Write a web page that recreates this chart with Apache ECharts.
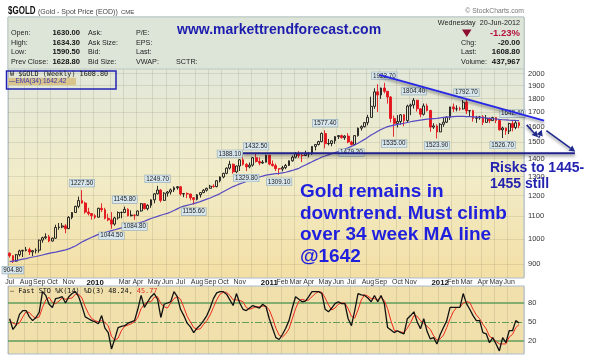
<!DOCTYPE html>
<html><head><meta charset="utf-8">
<script src="https://cdn.jsdelivr.net/npm/echarts@6/dist/echarts.min.js"></script>
<style>html,body{margin:0;padding:0;background:#fff}#c{width:590px;height:362px}</style>
</head><body><div id="c"></div>
<script>
// ---- DATA (weekly, week ending Friday; first week ends 2009-07-03) ----
const firstWeekEnd = [2009, 6, 3];
// [open, high, low, close]
const ohlc2009 = [
[943,946,926,933],[933,935,905,912],[912,940,910,937],[937,957,930,952],[952,957,928,954],
[954,968,950,957],[957,965,936,948],[948,955,932,953],[953,962,942,955],[955,998,945,996],
[996,1010,985,1006],[1006,1025,1000,1010],[1010,1018,987,992],[992,1007,990,1004],[1004,1062,1002,1050],
[1050,1070,1040,1052],[1052,1070,1047,1057],[1057,1065,1025,1045],[1045,1101,1043,1095],[1095,1120,1087,1118],
[1118,1150,1116,1147],[1147,1195,1138,1175],[1175,1227.5,1160,1163],[1163,1170,1112,1120],[1120,1140,1104,1113],
[1113,1115,1085,1103]];
const ohlc2010 = [
[1103,1110,1088,1096],[1096,1140,1095,1138],[1138,1162,1120,1131],[1131,1140,1086,1091],[1091,1112,1078,1084],
[1084,1120,1044.5,1065],[1065,1098,1058,1093],[1093,1123,1085,1118],[1118,1123,1091,1118],[1118,1145.8,1115,1133],
[1133,1138,1100,1103],[1103,1128,1100,1106],[1106,1109,1084.8,1105],[1105,1128,1102,1125],[1125,1163,1122,1160],
[1160,1162,1132,1136],[1136,1157,1128,1152],[1152,1181,1140,1179],[1179,1212,1162,1209],[1209,1249.7,1206,1228],
[1228,1232,1166,1176],[1176,1217,1174,1212],[1212,1223,1195,1218],[1218,1236,1205,1229],[1229,1247,1218,1240],
[1240,1248,1230,1245],[1245,1247,1200,1208],[1208,1213,1192,1210],[1210,1216,1187,1208],[1208,1209,1176,1189],
[1189,1192,1155.6,1181],[1181,1208,1176,1204],[1204,1217,1190,1215],[1215,1233,1212,1227],[1227,1240,1220,1237],
[1237,1255,1236,1248],[1248,1258,1240,1246],[1246,1280,1242,1277],[1277,1300,1268,1297],[1297,1320,1290,1317],
[1317,1350,1312,1346],[1346,1388.1,1338,1368],[1368,1372,1315,1325],[1325,1360,1318,1358],[1358,1398,1330,1394],
[1394,1424,1360,1367],[1367,1375,1329.8,1353],[1353,1378,1345,1363],[1363,1410,1355,1406],[1406,1432.5,1378,1384],
[1384,1408,1362,1375],[1375,1392,1370,1380],[1380,1424,1378,1421]];
const ohlc2011 = [
[1421,1423,1362,1369],[1369,1390,1355,1360],[1360,1372,1330,1343],[1343,1345,1309.1,1341],[1341,1359,1328,1349],
[1349,1370,1340,1361],[1361,1390,1358,1388],[1388,1419,1383,1409],[1409,1440,1402,1429],[1429,1445,1405,1420],
[1420,1436,1381,1419],[1419,1448,1415,1429],[1429,1440,1408,1429],[1429,1475,1423,1474],[1474,1487,1450,1486],
[1486,1509,1480,1504],[1504,1563,1500,1556],[1556,1577.4,1462,1491],[1491,1521,1480,1492],[1492,1511,1475,1509],
[1509,1538,1490,1536],[1536,1546,1520,1542],[1542,1549,1523,1529],[1529,1545,1515,1539],[1539,1558,1494,1501],
[1501,1510,1479.2,1486],[1486,1545,1483,1542],[1542,1595,1536,1591],[1591,1610,1575,1601],[1601,1632,1596,1628],
[1628,1682,1610,1664],[1664,1815,1664,1743],[1743,1880,1725,1852],[1852,1912,1702,1828],[1828,1885,1798,1882],
[1882,1923.7,1840,1856],[1856,1859,1763,1812],[1812,1820,1630,1657],[1657,1677,1535,1623],[1623,1680,1596,1636],
[1636,1688,1615,1682],[1682,1686,1604,1642],[1642,1755,1630,1745],[1745,1763,1680,1753],[1753,1804.4,1727,1788],
[1788,1791,1705,1725],[1725,1728,1665,1686],[1686,1764,1677,1746],[1746,1763,1706,1713],[1713,1718,1567,1598],
[1598,1624,1586,1606],[1606,1617,1523.9,1566]];
const ohlc2012 = [
[1566,1625,1565,1617],[1617,1660,1600,1631],[1631,1672,1626,1665],[1665,1740,1647,1739],[1739,1764,1703,1725],
[1725,1750,1707,1725],[1725,1740,1712,1724],[1724,1790,1720,1773],[1773,1792.7,1688,1710],[1710,1716,1672,1712],
[1712,1718,1635,1658],[1658,1675,1627,1662],[1662,1675,1648,1668],[1668,1680,1612,1630],[1630,1681,1628,1658],
[1658,1663,1625,1642],[1642,1669,1640,1663],[1663,1666,1625,1643],[1643,1648,1575,1580],[1580,1601,1526.7,1592],
[1592,1595,1547,1572],[1572,1627,1552,1622],[1622,1642.4,1570,1595],[1595,1640,1584,1627],[1627,1634.3,1590.5,1608.8]];

const ema34 = [
910,912,914,917,920,922,925,928,930,933,
936,939,942,945,947,950,953,956,960,966,
972,980,988,995,1002,1008,1014,1020,1024,1028,
1032,1036,1040,1044,1048,1052,1056,1060,1064,1068,
1073,1078,1084,1090,1095,1100,1105,1110,1114,1120,
1127,1135,1143,1148,1152,1156,1160,1165,1170,1176,
1182,1188,1195,1202,1210,1219,1228,1237,1246,1253,
1260,1266,1273,1280,1286,1292,1297,1302,1307,1310,
1313,1315,1317,1320,1323,1328,1333,1339,1345,1355,
1364,1373,1382,1392,1400,1410,1416,1423,1430,1436,
1442,1450,1458,1466,1474,1483,1494,1506,1518,1532,
1546,1558,1570,1582,1592,1601,1606,1611,1616,1620,
1624,1629,1634,1638,1642,1646,1649,1652,1654,1656,
1658,1661,1664,1666,1668,1670,1671,1672,1671,1670,
1670,1668,1666,1664,1662,1660,1658,1655,1653,1650,
1648,1647,1645,1644,1643,1642.42];

const stoK = [
55,38,45,62,68,68,58,52,57,65,
98,92,78,73,87,88,90,80,90,95,
98,90,75,58,55,52,50,47,60,40,
33,7,23,41,43,44,48,50,52,70,
92,73,82,90,95,86,57,78,80,82,
98,90,70,60,48,42,33,40,45,52,
60,72,87,96,98,98,94,85,76,95,
80,70,68,72,76,74,72,78,74,55,
40,25,22,30,40,52,72,90,86,82,
83,90,98,98,98,95,70,66,72,79,
82,79,79,55,44,68,95,93,92,88,
82,92,82,92,79,41,37,33,36,33,
31,55,60,66,50,39,55,35,23,25,
15,30,41,52,73,73,73,73,95,79,
70,60,52,52,33,31,17,25,15,4,
25,17,36,36,52,48.24];
const stoD = [
52,48,46,48,58,66,65,59,56,58,
73,85,89,81,79,83,88,86,87,88,
94,94,88,74,63,55,52,50,52,49,
44,27,21,24,36,43,45,47,50,57,
71,78,82,82,89,90,79,74,72,80,
87,90,86,73,59,50,41,38,39,46,
52,61,73,85,94,97,97,92,85,85,
84,82,73,70,72,74,74,75,75,69,
56,40,29,26,31,39,55,71,83,86,
84,85,90,95,98,97,88,77,69,72,
78,80,80,71,59,56,69,85,93,91,
87,87,85,89,84,71,52,37,35,34,
33,40,49,60,59,52,48,43,38,28,
21,23,29,41,55,66,73,73,80,82,
81,70,61,55,46,39,27,24,19,15,
15,15,26,30,41,45.77];

const priceTicks = [900,1000,1100,1200,1300,1400,1500,1600,1700,1800,1900,2000];
const stoTicks = [20,50,80];
const hiddenMonthLabels = ['2009-12','2010-02','2010-12','2011-12'];
const monthNames = ['Jan','Feb','Mar','Apr','May','Jun','Jul','Aug','Sep','Oct','Nov','Dec'];
// [weekIndex, price, 'high'|'low']
const peakLabels = [
[1,904.8,'low'],[22,1227.5,'high'],[31,1044.5,'low'],[35,1145.8,'high'],[38,1084.8,'low'],
[45,1249.7,'high'],[56,1155.6,'low'],[67,1388.1,'high'],[72,1329.8,'low'],[75,1432.5,'high'],
[82,1309.1,'low'],[96,1577.4,'high'],[104,1479.2,'low'],[114,1923.7,'high'],[117,1535.0,'low'],
[123,1804.4,'high'],[130,1523.9,'low'],[139,1792.7,'high'],[150,1526.7,'low'],[153,1642.4,'high']];
// annotation anchors [weekIndex, price]
const trendLine = [[112.5,1988],[162.6,1642]];
const supportLine = [[71,1432.5],[172,1432.5]];
const arrows = [ [[157.3,1613],[160.8,1531]], [[161.0,1528],[161.9,1580]], [[163.3,1575],[172.1,1442]] ];

// ---- BUILD ----
const ohlc = ohlc2009.concat(ohlc2010, ohlc2011, ohlc2012);
const weeks = [];
for (let i = 0; i < ohlc.length; i++) {
  const d = new Date(Date.UTC(firstWeekEnd[0], firstWeekEnd[1], firstWeekEnd[2]) + i * 7 * 86400000);
  weeks.push(d.toISOString().slice(0, 10));
}
const cats = weeks.concat(['']);
const L = Math.log10;
const candles = ohlc.map(r => [L(r[0]), L(r[3]), L(r[2]), L(r[1])]).concat(['-']);
const isMonthStart = i => i < weeks.length && (i === 0 || weeks[i].slice(5,7) !== weeks[i-1].slice(5,7));
const FONT = 'Liberation Sans, Arial, sans-serif';
const MONO = 'DejaVu Sans Mono, monospace';
const gridLineColor = 'rgba(110,110,90,0.16)';

const chart = echarts.init(document.getElementById('c'));
chart.setOption({
  animation: false,
  textStyle: {fontFamily: FONT},
  grid: [
    {left: 8, right: 66, top: 17, bottom: 84, show: true, borderColor: '#a9bccd', borderWidth: 1,
     backgroundColor: new echarts.graphic.LinearGradient(0,0,0,1,[
       {offset:0,color:'#dfe6dc'},{offset:0.25,color:'#e4e8d8'},{offset:0.6,color:'#f1ecc9'},{offset:1,color:'#f3dfa4'}])},
    {left: 8, right: 66, top: 286, bottom: 8, show: true, borderColor: '#a9bccd', borderWidth: 1,
     backgroundColor: '#f1dfac'}
  ],
  xAxis: [
    {type:'category', gridIndex:0, data: cats, boundaryGap: true,
     axisLine:{show:false}, axisTick:{show:false},
     axisLabel:{show:true, margin:1, fontSize:7, color:'#333', fontFamily: FONT,
       interval: (idx) => isMonthStart(idx) && hiddenMonthLabels.indexOf(weeks[idx].slice(0,7)) < 0,
       formatter: (v) => { if (!v) return ''; const m = +v.slice(5,7); return m === 1 ? '{y|' + v.slice(0,4) + '}' : monthNames[m-1]; },
       rich: {y: {fontWeight:'bold', fontSize:7.8, color:'#111', fontFamily: FONT}}},
     splitLine:{show:true, interval:(idx) => isMonthStart(idx), lineStyle:{color:gridLineColor, width:1}}},
    {type:'category', gridIndex:1, data: cats, boundaryGap: true,
     axisLine:{show:false}, axisTick:{show:false}, axisLabel:{show:false},
     splitLine:{show:true, interval:(idx) => isMonthStart(idx), lineStyle:{color:gridLineColor, width:1}}}
  ],
  yAxis: [
    {type:'value', gridIndex:0, position:'right', min: L(850), max: L(2533), scale: true,
     axisLine:{show:false}, axisTick:{show:false, customValues: priceTicks.map(L)},
     axisLabel:{customValues: priceTicks.map(L), formatter: v => String(Math.round(Math.pow(10, v))),
       fontSize:7.5, color:'#333', margin:4, fontFamily: FONT},
     splitLine:{show:true, lineStyle:{color:gridLineColor, width:1}}},
    {type:'value', gridIndex:1, position:'right', min:-1, max:107,
     axisLine:{show:false}, axisTick:{show:false, customValues: stoTicks},
     axisLabel:{customValues: stoTicks, fontSize:7.5, color:'#333', margin:4, fontFamily: FONT},
     splitLine:{show:false}}
  ],
  series: [
    {type:'candlestick', xAxisIndex:0, yAxisIndex:0, data: candles, barWidth: 2.3,
     itemStyle:{color:'rgba(0,0,0,0)', color0:'#e3141c', borderColor:'#151515', borderColor0:'#e3141c', borderWidth:0.9},
     markPoint:{symbol:'rect', symbolSize:1, itemStyle:{color:'rgba(0,0,0,0)'}, silent:true,
       label:{show:true, fontSize:6.3, color:'#222', fontFamily: FONT, backgroundColor:'#d8e7ee',
              borderColor:'#90a8b4', borderWidth:0.6, padding:[1,1,0,1]},
       data: peakLabels.map(p => ({coord:[p[0], L(p[1])], value:p[1],
         label:{formatter: p[1].toFixed(2), offset:[0, p[2] === 'high' ? -7 : 7]}}))}},
    {type:'line', xAxisIndex:0, yAxisIndex:0, data: ema34.map(L), showSymbol:false, silent:true,
     lineStyle:{color:'#5549c4', width:1.2}},
    {type:'line', xAxisIndex:1, yAxisIndex:1, data: stoD, showSymbol:false, silent:true, z:3,
     lineStyle:{color:'#ec2a1e', width:1}},
    {type:'line', xAxisIndex:1, yAxisIndex:1, data: stoK, showSymbol:false, silent:true, z:4,
     lineStyle:{color:'#111', width:1.3},
     markLine:{silent:true, symbol:'none', label:{show:false}, z:2,
       data:[{yAxis:80, lineStyle:{color:'#5f9e5c', width:1.5, type:'solid'}},
             {yAxis:20, lineStyle:{color:'#5f9e5c', width:1.5, type:'solid'}},
             {yAxis:50, lineStyle:{color:'#5f9e5c', width:1.2, type:[7,2,2,2]}}]}}
  ]
});

// ---- annotations (anchored through the axes) ----
const P = (i, price) => {
  const a = chart.convertToPixel({xAxisIndex:0, yAxisIndex:0}, [0, L(price)]);
  const b = chart.convertToPixel({xAxisIndex:0, yAxisIndex:0}, [1, L(price)]);
  return [a[0] + i * (b[0] - a[0]), a[1]];
};
const shadow = {shadowBlur:3, shadowColor:'rgba(0,0,0,0.45)', shadowOffsetY:2};
function lineEl(p1, p2, color, w) {
  return {type:'line', shape:{x1:p1[0], y1:p1[1], x2:p2[0], y2:p2[1]}, z:50,
    style:Object.assign({stroke:color, lineWidth:w}, shadow)};
}
function arrowEl(p1, p2, color) {
  const ang = Math.atan2(p2[1]-p1[1], p2[0]-p1[0]), s = 6, w = 3.2;
  const bx = p2[0] - s*Math.cos(ang), by = p2[1] - s*Math.sin(ang);
  const nx = -Math.sin(ang)*w, ny = Math.cos(ang)*w;
  return [lineEl(p1, [bx, by], color, 1.6),
    {type:'polygon', z:51, shape:{points:[[p2[0],p2[1]],[bx+nx,by+ny],[bx-nx,by-ny]]}, style:{fill:color}}];
}
const els = [];
// info panel
els.push({type:'rect', shape:{x:8, y:17, width:516, height:52}, z:40, style:{fill:'#dde5d9', stroke:'#bcc8c0', lineWidth:1}});
const T = (x, y, text, o, z) => ({type:'text', x:x, y:y, z: z || 60,
  style:Object.assign({text:text, font:'7.2px ' + FONT, fill:'#222', textVerticalAlign:'middle'}, o || {})});
const title = T(8, 11.5, '$GOLD', {font:'bold 10px ' + FONT, fill:'#111'});
title.scaleX = 0.8;
els.push(title);
els.push(T(38, 12, '(Gold - Spot Price (EOD))', {font:'7px ' + FONT, fill:'#444'}));
els.push(T(121, 12, 'CME', {font:'6px ' + FONT, fill:'#444'}));
els.push(T(524, 11.5, '\u00A9 StockCharts.com', {font:'6.8px ' + FONT, fill:'#777', textAlign:'right'}));
const rowsY = [33.3, 43.3, 52.3, 62.3];
[['Open:','1630.00','Ask:','P/E:'],['High:','1634.30','Ask Size:','EPS:'],['Low:','1590.50','Bid:','Last:'],['Prev Close:','1628.80','Bid Size:','VWAP:']]
.forEach((r, k) => {
  els.push(T(11, rowsY[k], r[0]));
  els.push(T(80, rowsY[k], r[1], {font:'bold 7.6px ' + FONT, fill:'#111', textAlign:'right'}));
  els.push(T(88, rowsY[k], r[2]));
  els.push(T(136, rowsY[k], r[3]));
});
els.push(T(176, rowsY[3], 'SCTR:'));
els.push(T(177, 30, 'www.markettrendforecast.com', {font:'bold 14px ' + FONT, fill:'#1c1cae'}));
els.push(T(520, 23.3, 'Wednesday  20-Jun-2012', {font:'7.2px ' + FONT, textAlign:'right'}));
els.push({type:'polygon', z:60, shape:{points:[[462,29.5],[471.5,29.5],[466.75,37]]}, style:{fill:'#8c0f30'}});
els.push(T(520, 33.3, '-1.23%', {font:'bold 9.5px ' + FONT, fill:'#b4103c', textAlign:'right'}));
[['Chg:','-20.00'],['Last:','1608.80'],['Volume:','437,967']].forEach((r, k) => {
  els.push(T(461, rowsY[k+1], r[0]));
  els.push(T(520, rowsY[k+1], r[1], {font:'bold 7.8px ' + FONT, fill:'#111', textAlign:'right'}));
});
// price legend box
els.push({type:'rect', z:61, shape:{x:8, y:77.8, width:68, height:7.4}, style:{fill:'#d9c48c'}});
els.push(T(10, 74.6, 'W $GOLD (Weekly) 1608.80', {font:'6.8px ' + MONO, fill:'#111'}, 63));
els.push(T(9, 81.6, '\u2014EMA(34) 1642.42', {font:'6.5px ' + FONT, fill:'#3a36b0'}, 63));
els.push({type:'rect', z:62, shape:{x:6.5, y:71, width:109.5, height:18}, style:{fill:null, stroke:'#2222b4', lineWidth:1.5}});
// stochastic legend
els.push({type:'text', x:10, y:290.8, z:60, style:{text:'{k|\u2014 Fast STO %K(14) %D(3) 48.24, }{d|45.77}',
  textVerticalAlign:'middle', rich:{k:{font:'6.8px ' + MONO, fill:'#111'}, d:{font:'6.8px ' + MONO, fill:'#e4261c'}}}});
// trend / support lines and arrows
els.push(lineEl(P(trendLine[0][0], trendLine[0][1]), P(trendLine[1][0], trendLine[1][1]), '#2626e6', 2));
els.push(lineEl(P(supportLine[0][0], supportLine[0][1]), P(supportLine[1][0], supportLine[1][1]), '#22228e', 2));
arrows.forEach(a => arrowEl(P(a[0][0], a[0][1]), P(a[1][0], a[1][1]), '#1f2a8c').forEach(e => els.push(e)));
// commentary text
['Gold remains in','downtrend. Must climb','over 34 week MA line','@1642'].forEach((s, k) => {
  els.push(T(300, 191.7 + k * 21.6, s, {font:'bold 19px ' + FONT, fill:'#1f1fde'}));
});
els.push(T(490, 168.3, 'Risks to 1445-', {font:'bold 14px ' + FONT, fill:'#2323b0'}));
els.push(T(490, 184, '1455 still', {font:'bold 14px ' + FONT, fill:'#2323b0'}));
chart.setOption({graphic: els});
</script></body></html>
